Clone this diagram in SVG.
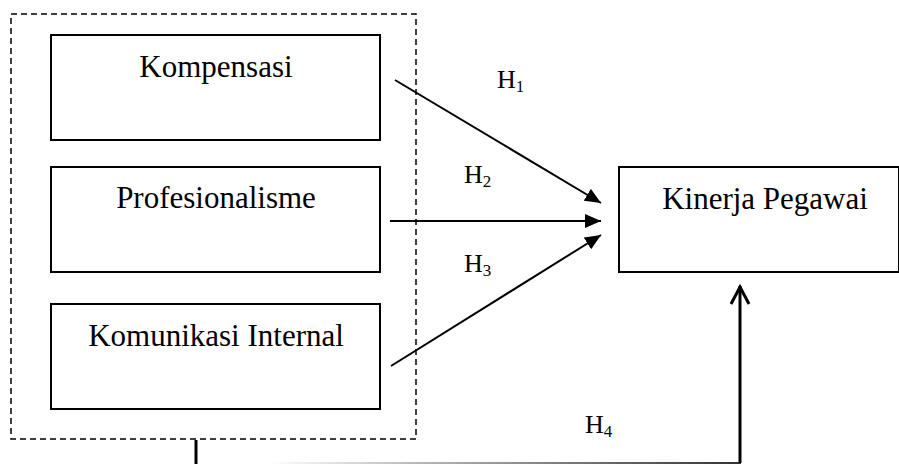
<svg xmlns="http://www.w3.org/2000/svg" width="899" height="464" viewBox="0 0 899 464">
<style>
.box{fill:#fff;stroke:#000;stroke-width:2}
.lbl{font-family:"Liberation Serif","Times New Roman",serif;font-size:31px;fill:#000;text-anchor:middle}
.h{font-family:"Liberation Serif","Times New Roman",serif;font-size:26px;fill:#000}
.sub{font-size:17px}
.ln{stroke:#000;stroke-width:2;fill:none}
</style>
<defs>
<marker id="tri" markerWidth="16" markerHeight="14" refX="16" refY="7" orient="auto" markerUnits="userSpaceOnUse">
<path d="M0,0 L16,7 L0,14 Z" fill="#000"/>
</marker>
<linearGradient id="fade" gradientUnits="userSpaceOnUse" x1="270" y1="0" x2="740" y2="0">
<stop offset="0" stop-color="#fff"/>
<stop offset="0.3" stop-color="#bbb"/>
<stop offset="1" stop-color="#333"/>
</linearGradient>
</defs>
<rect x="0" y="0" width="899" height="464" fill="#fff"/>
<g id="group-box">
<rect x="11" y="14" width="405" height="425" fill="none" stroke="#000" stroke-width="1.5" stroke-dasharray="6 4"/>
</g>
<g id="kompensasi">
<rect class="box" x="51" y="35" width="329" height="105"/>
<text class="lbl" x="216" y="77">Kompensasi</text>
</g>
<g id="profesionalisme">
<rect class="box" x="51" y="167" width="329" height="105"/>
<text class="lbl" x="216" y="208">Profesionalisme</text>
</g>
<g id="komunikasi">
<rect class="box" x="51" y="304" width="329" height="105"/>
<text class="lbl" x="216" y="346">Komunikasi Internal</text>
</g>
<g id="kinerja">
<rect class="box" x="619" y="167" width="280" height="105"/>
<text class="lbl" x="765" y="209">Kinerja Pegawai</text>
</g>
<g id="connectors">
<line class="ln" x1="395" y1="80" x2="601" y2="203" marker-end="url(#tri)"/>
<line class="ln" x1="390" y1="221" x2="601" y2="221" marker-end="url(#tri)"/>
<line class="ln" x1="391" y1="366" x2="601" y2="235" marker-end="url(#tri)"/>
<line x1="196" y1="440" x2="196" y2="464" stroke="#000" stroke-width="3"/>
<line x1="270" y1="463" x2="741" y2="463" stroke="url(#fade)" stroke-width="2"/>
<line x1="740" y1="463" x2="740" y2="286" stroke="#000" stroke-width="3"/>
<polyline points="731,304 740,287 749,304" fill="none" stroke="#000" stroke-width="3"/>
</g>
<g id="labels">
<text class="h" x="497" y="88">H<tspan class="sub" dy="4">1</tspan></text>
<text class="h" x="464" y="183">H<tspan class="sub" dy="4">2</tspan></text>
<text class="h" x="464" y="272">H<tspan class="sub" dy="4">3</tspan></text>
<text class="h" x="585" y="433">H<tspan class="sub" dy="4">4</tspan></text>
</g>
</svg>
